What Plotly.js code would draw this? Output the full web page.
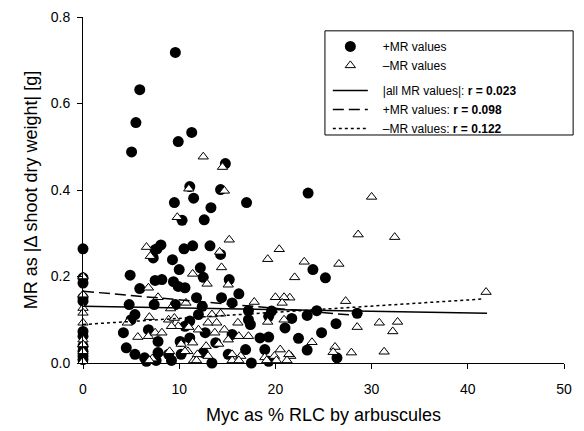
<!DOCTYPE html>
<html>
<head>
<meta charset="utf-8">
<script src="https://cdn.plot.ly/plotly-3.0.1.min.js"></script>
<style>html,body{margin:0;padding:0;background:#fff;}#chart{width:584px;height:431px;}</style>
</head>
<body>
<div id="chart"></div>
<script>
// +MR values (Myc %, |Δ shoot dry weight| g)
const posX = [9.6,5.9,5.5,5.05,11.3,9.9,14.8,11.1,14.3,11.5,9.5,17.0,13.3,10.3,12.6,0,8.1,11.4,13.2,7.7,10.5,7.5,23.4,
  23.9,25.2,24.3,23.3,21.7,28.5,26.3,24.8,22.4,23.3,26.4,
  14.3,12.2,12.5,15.2,16.2,11.8,14.4,12.4,15.5,17.2,19.6,12.0,17.2,17.4,21.0,19.3,11.1,12.7,15.5,11.1,18.4,19.3,13.8,18.9,16.9,12.5,13.4,17.5,15.1,19.3,10.6,
  0,0,0,0,0,0,0,0,0,0,
  4.9,5.9,7.5,8.2,9.4,9.9,9.3,7.3,10.0,4.8,7.4,9.6,5.4,5.0,4.2,6.8,7.8,10.1,4.5,5.4,6.4,7.8,8.9,10.2,7.6,6.6,10.6,9.2];
const posY = [0.718,0.632,0.556,0.488,0.533,0.512,0.461,0.408,0.401,0.381,0.371,0.371,0.359,0.330,0.331,0.264,0.273,0.271,0.271,0.264,0.264,0.262,0.393,
  0.216,0.197,0.121,0.110,0.103,0.115,0.091,0.070,0.057,0.030,0.012,
  0.251,0.220,0.198,0.193,0.160,0.151,0.151,0.131,0.139,0.121,0.120,0.112,0.100,0.089,0.081,0.108,0.097,0.070,0.066,0.058,0.058,0.060,0.047,0.031,0.031,0.024,0.0,0.0,0.020,0.004,0.174,
  0.197,0.185,0.151,0.143,0.073,0.062,0.039,0.027,0.016,0.008,
  0.203,0.172,0.191,0.193,0.188,0.177,0.239,0.243,0.216,0.135,0.135,0.135,0.112,0.100,0.070,0.077,0.050,0.050,0.035,0.020,0.012,0.024,0.020,0.020,0.006,0.004,0.085,0.006];

// -MR values
const negX = [12.5,14.5,11.0,14.7,9.8,15.2,6.6,20.4,14.2,28.6,30.0,32.4,41.9,28.5,30.8,32.7,32.2,31.3,27.9,
  23.0,26.6,22.0,21.5,27.3,23.8,26.2,26.0,21.6,
  19.2,14.4,11.4,12.9,15.1,20.0,20.9,20.7,17.8,10.7,14.3,13.4,13.0,13.9,16.1,19.2,20.9,11.0,12.0,14.7,13.7,17.2,16.2,15.1,11.4,14.1,12.8,10.9,11.9,13.0,15.5,16.4,18.9,20.5,21.4,19.9,
  0,0,0,0,0,0,0,0,0,
  7.0,6.8,7.8,9.1,4.6,6.9,5.7,6.8,7.5,8.2,8.9,9.5,9.9,9.2,9.0,7.2,10.6,10.2,
  6.9,11.5,15.5,16.2,19.1,20.1,21.2,11.8];
const negY = [0.477,0.453,0.403,0.398,0.337,0.285,0.268,0.263,0.257,0.297,0.384,0.291,0.164,0.083,0.093,0.095,0.073,0.026,0.024,
  0.234,0.229,0.198,0.151,0.143,0.048,0.037,0.025,0.016,
  0.240,0.221,0.206,0.183,0.181,0.152,0.152,0.139,0.141,0.139,0.114,0.112,0.093,0.093,0.093,0.095,0.100,0.083,0.077,0.077,0.070,0.062,0.062,0.054,0.047,0.044,0.039,0.027,0.020,0.016,0.020,0.016,0.013,0.031,0.020,0.016,
  0.200,0.158,0.127,0.116,0.093,0.054,0.043,0.027,0.004,
  0.247,0.174,0.152,0.126,0.093,0.106,0.060,0.062,0.070,0.070,0.100,0.104,0.085,0.085,0.027,0.010,0.027,0.044,
  0.006,0.006,0.006,0.006,0.006,0.006,0.006,0.006];

// Regression lines (end points)
const fitAllX = [0, 42];   const fitAllY = [0.131, 0.115];
const fitPosX = [0, 28.3]; const fitPosY = [0.166, 0.110];
const fitNegX = [0, 41.6]; const fitNegY = [0.089, 0.148];

const pad = '\u00a0\u00a0\u00a0';
const legendNames = ['+MR values', '\u2013MR values',
  '|all MR values|: <b>r = 0.023</b>', '+MR values: <b>r = 0.098</b>', '\u2013MR values: <b>r = 0.122</b>'];
const xTicks = [0, 10, 20, 30, 40, 50];
const yTicks = [0.0, 0.2, 0.4, 0.6, 0.8];

const traces = [
  {x: posX, y: posY, type: 'scatter', mode: 'markers', name: pad + legendNames[0], legendgroup: 'pts', cliponaxis: false,
   marker: {symbol: 'circle', size: 11, color: '#000'}},
  {x: negX, y: negY, type: 'scatter', mode: 'markers', name: pad + legendNames[1], legendgroup: 'pts', cliponaxis: false,
   marker: {symbol: 'triangle-up', size: 9, color: '#fff', line: {color: '#000', width: 1}}},
  {x: fitAllX, y: fitAllY, type: 'scatter', mode: 'lines', name: pad + legendNames[2], legendgroup: 'fit',
   line: {color: '#000', width: 1.5, dash: 'solid'}},
  {x: fitPosX, y: fitPosY, type: 'scatter', mode: 'lines', name: pad + legendNames[3], legendgroup: 'fit',
   line: {color: '#000', width: 1.5, dash: '11px,5px'}},
  {x: fitNegX, y: fitNegY, type: 'scatter', mode: 'lines', name: pad + legendNames[4], legendgroup: 'fit',
   line: {color: '#000', width: 1.5, dash: 'dot'}}
];

const font = 'Liberation Sans, Arial, sans-serif';
const layout = {
  width: 584, height: 431,
  margin: {l: 83, r: 20, t: 17, b: 68},
  paper_bgcolor: '#fff', plot_bgcolor: '#fff',
  font: {family: font, color: '#000', size: 14},
  showlegend: true,
  legend: {x: 0.509, y: 0.957, xanchor: 'left', yanchor: 'top', bgcolor: 'rgba(0,0,0,0)',
    borderwidth: 0, font: {family: font, size: 12, color: '#000'},
    traceorder: 'grouped', tracegroupgap: 6, itemwidth: 35},
  xaxis: {range: [0, 50], tickvals: xTicks, ticktext: xTicks.map(String),
    showline: true, linecolor: '#000', linewidth: 1, ticks: 'outside', ticklen: 5, tickcolor: '#000',
    showgrid: false, zeroline: false, ticklabelstandoff: 8,
    tickfont: {family: font, size: 14},
    title: {text: 'Myc as % RLC by arbuscules', font: {family: font, size: 18}, standoff: 12}},
  yaxis: {range: [0, 0.8], tickvals: yTicks, ticktext: yTicks.map(v => v.toFixed(1)),
    showline: true, linecolor: '#000', linewidth: 1, ticks: 'outside', ticklen: 5, tickcolor: '#000',
    showgrid: false, zeroline: false, ticklabelstandoff: 4,
    tickfont: {family: font, size: 14},
    title: {text: 'MR as |\u0394 shoot dry weight| [g]', font: {family: font, size: 18}, standoff: 8}},
  shapes: [{type: 'rect', xref: 'paper', yref: 'paper', x0: 0.503, x1: 1.019, y0: 0.659, y1: 0.960,
    line: {color: '#000', width: 1}, fillcolor: 'rgba(0,0,0,0)'}]
};

Plotly.newPlot('chart', traces, layout, {displayModeBar: false, staticPlot: true});
</script>
</body>
</html>
